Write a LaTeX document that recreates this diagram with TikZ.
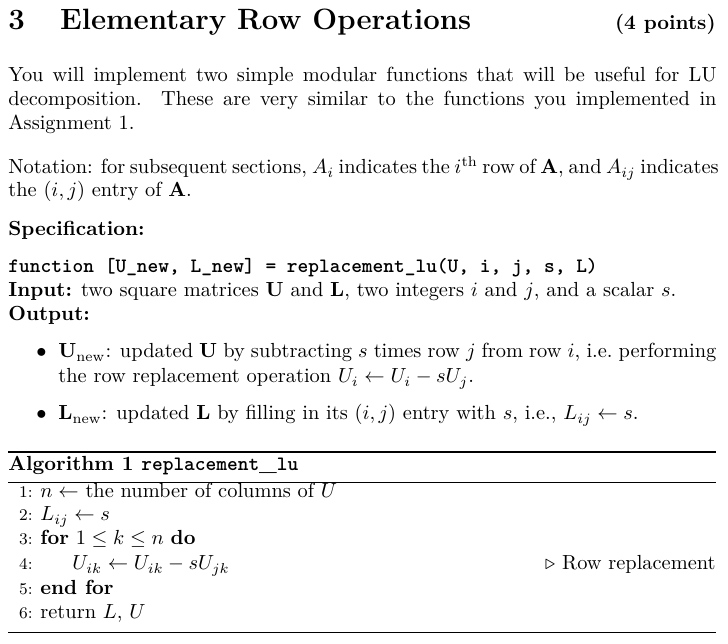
\documentclass[tikz,border=0pt]{standalone}
\usepackage{amsmath,amssymb}
\usetikzlibrary{positioning}
\tikzset{
  txt/.style={anchor=base west, inner sep=0pt},
  rtxt/.style={anchor=base east, inner sep=0pt},
  num/.style={anchor=base east, inner sep=0pt, font=\footnotesize},
  rule/.style={line width=0.8pt}
}
\newcommand{\jline}[2]{\makebox[#1][s]{#2}}
\begin{document}
\begin{tikzpicture}[x=0.49pt, y=-0.49pt]
  \useasboundingbox (0,0) rectangle (728,644);
  % Heading
  \node [txt, font=\fontsize{14.4}{17}\selectfont\bfseries] (head) at (8,30) {3\hspace{1.2em}Elementary Row Operations};
  \node [rtxt, font=\bfseries] (pts) at (716,30) {(4 points)};
  % Intro
  \node [txt] (p1) at (8,82) {\jline{347pt}{You will implement two simple modular functions that will be useful for LU}};
  \node [txt] (p2) at (8,106) {\jline{347pt}{decomposition.\ \ These are very similar to the functions you implemented in}};
  \node [txt] (p3) at (8,130) {Assignment 1.};
  \node [txt] (n1) at (8,174) {\jline{347pt}{Notation: for subsequent sections, $A_i$ indicates the $i^{\text{th}}$ row of $\mathbf{A}$, and $A_{ij}$ indicates}};
  \node [txt] (n2) at (8,197) {the $(i,j)$ entry of $\mathbf{A}$.};
  % Specification
  \node [txt, font=\bfseries] (spec) at (8,236) {Specification:};
  \node [txt, font=\ttfamily\bfseries] (fn) at (8,273) {function [U\_new, L\_new] = replacement\_lu(U, i, j, s, L)};
  \node [txt] (inp) at (8,297) {\textbf{Input:} two square matrices $\mathbf{U}$ and $\mathbf{L}$, two integers $i$ and $j$, and a scalar $s$.};
  \node [txt, font=\bfseries] (out) at (8,321) {Output:};
  \node [txt] (b1) at (36,358) {$\bullet$};
  \node [txt] (u1) at (58,358) {\jline{322.4pt}{$\mathbf{U}_{\mathrm{new}}$: updated $\mathbf{U}$ by subtracting $s$ times row $j$ from row $i$, i.e.\ performing}};
  \node [txt] (u2) at (58,383) {the row replacement operation $U_i \leftarrow U_i - sU_j$.};
  \node [txt] (b2) at (36,420) {$\bullet$};
  \node [txt] (l1) at (58,420) {$\mathbf{L}_{\mathrm{new}}$: updated $\mathbf{L}$ by filling in its $(i,j)$ entry with $s$, i.e., $L_{ij} \leftarrow s$.};
  % Algorithm box
  \draw [rule] (8,452) -- (716,452);
  \node [txt] (alg) at (8,471) {\textbf{Algorithm 1 \texttt{replacement}\_\texttt{lu}}};
  \draw [line width=0.4pt] (8,482) -- (716,482);
  \node [num] at (33,498) {1:};
  \node [txt] (a1) at (40,498) {$n \leftarrow$ the number of columns of $U$};
  \node [num] at (33,521) {2:};
  \node [txt] (a2) at (40,521) {$L_{ij} \leftarrow s$};
  \node [num] at (33,545) {3:};
  \node [txt] (a3) at (40,545) {\textbf{for} $1 \le k \le n$ \textbf{do}};
  \node [num] at (33,570) {4:};
  \node [txt] (a4) at (72,570) {$U_{ik} \leftarrow U_{ik} - sU_{jk}$};
  \node [rtxt] (cm) at (716,570) {$\triangleright$ Row replacement};
  \node [num] at (33,594) {5:};
  \node [txt] (a5) at (40,594) {\textbf{end for}};
  \node [num] at (33,618) {6:};
  \node [txt] (a6) at (40,618) {return $L$, $U$};
  \draw [line width=0.4pt] (8,632) -- (716,632);
\end{tikzpicture}
\end{document}
